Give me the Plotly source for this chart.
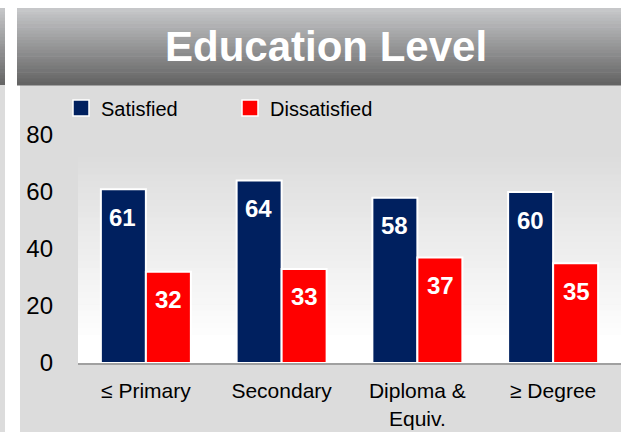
import plotly.graph_objects as go

categories = ["≤ Primary", "Secondary", "Diploma &<br>Equiv.", "≥ Degree"]
satisfied = [61, 64, 58, 60]
dissatisfied = [32, 33, 37, 35]
y_ticks = [0, 20, 40, 60, 80]

NAVY = "#00205f"
RED = "#ff0000"

# plot area in pixels: x 78..621, y 135..363
L, R, T, B = 78, 621, 135, 363
W, H = R - L, B - T


def px(x):
    return (x - L) / W


def py(y):
    return (B - y) / H


def mix(c1, c2, t):
    a = [int(c1[i:i + 2], 16) for i in (1, 3, 5)]
    b = [int(c2[i:i + 2], 16) for i in (1, 3, 5)]
    return "rgb(%d,%d,%d)" % tuple(round(a[k] + (b[k] - a[k]) * t) for k in range(3))


shapes = []


def rect(x0, y0, x1, y1, color):
    shapes.append(dict(type="rect", xref="paper", yref="paper", layer="below",
                       x0=px(x0), x1=px(x1), y0=py(y0), y1=py(y1),
                       fillcolor=color, line=dict(width=0)))


def gradient(x0, y0, x1, y1, c_top, c_bot, n=24):
    step = (y1 - y0) / n
    for i in range(n):
        rect(x0, y0 + i * step, x1, y0 + (i + 1) * step + 0.6, mix(c_top, c_bot, i / (n - 1)))


# neighbour panel strip and main panel
gradient(0, 8, 5, 85, "#c4c5c7", "#666666")
rect(0, 85, 5, 432, "#dcdcdc")
rect(20, 85, 621, 432, "#dcdcdc")
gradient(17, 8, 621, 85, "#c6c7c9", "#646464")
# plot area gradient
gradient(L, 150, R, 335, "#dcdcdc", "#fdfdfd", n=30)
rect(L, 335, R, B, "#ffffff")

fig = go.Figure()
fig.add_trace(go.Bar(
    x=categories, y=satisfied, name="Satisfied",
    marker=dict(color=NAVY, line=dict(color="white", width=2)),
    showlegend=False,
))
fig.add_trace(go.Bar(
    x=categories, y=dissatisfied, name="Dissatisfied",
    marker=dict(color=RED, line=dict(color="white", width=2)),
    showlegend=False,
))
# legend entries
for name, color in [("Satisfied", NAVY), ("Dissatisfied", RED)]:
    fig.add_trace(go.Scatter(
        x=[None], y=[None], mode="markers", name=name,
        marker=dict(symbol="square", size=16, color=color, line=dict(color="white", width=1.5)),
    ))

annotations = []
for vals, shift in [(satisfied, -23), (dissatisfied, 23)]:
    for c, v in zip(categories, vals):
        annotations.append(dict(
            x=c, y=v, xref="x", yref="y", text="<b>%d</b>" % v, showarrow=False,
            xshift=shift, yshift=-28, yanchor="middle",
            font=dict(family="Liberation Sans, Arial", size=24, color="white"),
        ))
annotations.append(dict(
    x=px(326), y=py(47), xref="paper", yref="paper", text="<b>Education Level</b>",
    showarrow=False, xanchor="center", yanchor="middle",
    font=dict(family="Liberation Sans, Arial", size=42, color="white"),
))

fig.update_layout(
    width=621, height=432,
    margin=dict(l=L, r=621 - R, t=T, b=432 - B, pad=0, autoexpand=False),
    paper_bgcolor="white",
    plot_bgcolor="rgba(0,0,0,0)",
    barmode="group", bargap=0.337, bargroupgap=0,
    font=dict(family="Liberation Sans, Arial", color="black"),
    shapes=shapes,
    annotations=annotations,
    legend=dict(
        orientation="h", x=px(61), y=py(108), xanchor="left", yanchor="middle",
        bgcolor="rgba(0,0,0,0)", font=dict(size=20),
        entrywidth=124, entrywidthmode="pixels",
    ),
    xaxis=dict(
        showline=True, linecolor="#a0a0a0", linewidth=2, showgrid=False,
        ticks="", tickfont=dict(size=21), ticklabelstandoff=8, automargin=False,
    ),
    yaxis=dict(
        range=[0, 80], tickvals=y_ticks, showgrid=False, zeroline=False,
        showline=False, ticks="", tickfont=dict(size=24), ticklabelstandoff=24,
        automargin=False,
    ),
)

fig.write_html("out.html", config={"displayModeBar": False},
               post_script="document.body.style.margin='0';")
